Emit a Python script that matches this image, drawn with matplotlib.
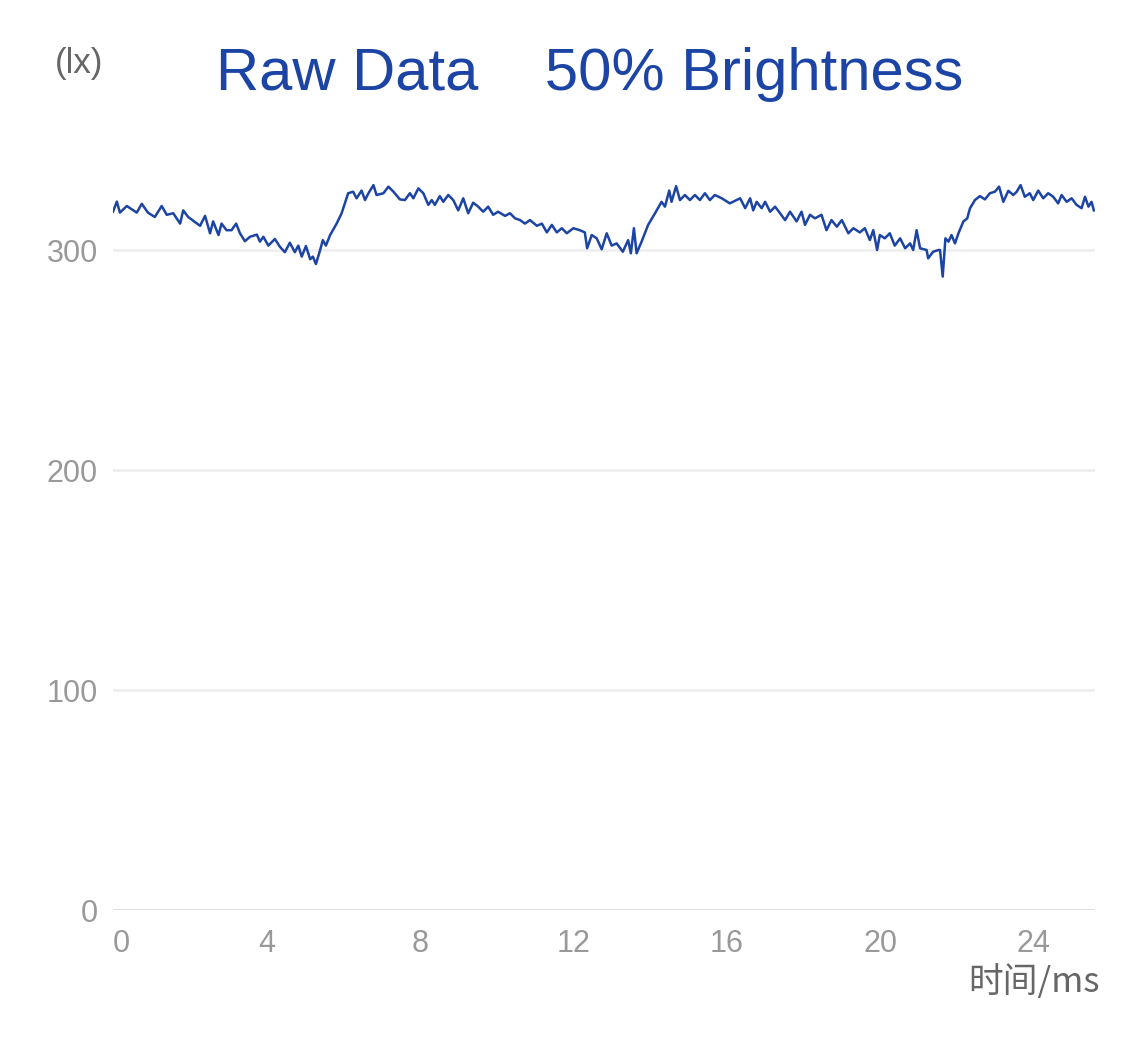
import matplotlib.pyplot as plt

# time (ms) and illuminance (lx)
time_ms = [
    0.00, 0.10, 0.18, 0.36, 0.62, 0.75, 0.91, 1.09, 1.27, 1.40, 1.57, 1.75, 1.83, 1.96,
    2.27, 2.40, 2.53, 2.61, 2.75, 2.83, 2.96, 3.09, 3.21, 3.31, 3.44, 3.57, 3.75, 3.83,
    3.92, 4.05, 4.22, 4.35, 4.48, 4.61, 4.74, 4.83, 4.92, 5.03, 5.14, 5.21, 5.29, 5.40,
    5.47, 5.55, 5.66, 5.83, 5.96, 6.13, 6.26, 6.35, 6.48, 6.57, 6.66, 6.79, 6.87, 7.05,
    7.18, 7.31, 7.48, 7.61, 7.74, 7.83, 7.96, 8.09, 8.22, 8.31, 8.39, 8.52, 8.61, 8.74,
    8.87, 9.00, 9.13, 9.26, 9.39, 9.52, 9.65, 9.78, 9.91, 10.04, 10.22, 10.35, 10.48,
    10.61, 10.74, 10.87, 11.05, 11.18, 11.31, 11.44, 11.57, 11.70, 11.83, 12.00, 12.17,
    12.30, 12.36, 12.48, 12.61, 12.74, 12.87, 13.00, 13.13, 13.29, 13.43, 13.50, 13.58,
    13.65, 13.78, 13.95, 14.13, 14.30, 14.39, 14.50, 14.56, 14.68, 14.78, 14.91, 15.04,
    15.17, 15.30, 15.43, 15.56, 15.69, 15.87, 16.08, 16.35, 16.48, 16.61, 16.69, 16.78,
    16.91, 17.00, 17.13, 17.26, 17.39, 17.52, 17.65, 17.82, 17.95, 18.04, 18.17, 18.30,
    18.47, 18.60, 18.73, 18.87, 19.00, 19.17, 19.30, 19.47, 19.60, 19.73, 19.82, 19.92,
    19.99, 20.12, 20.25, 20.38, 20.52, 20.65, 20.78, 20.86, 20.95, 21.04, 21.21, 21.25,
    21.38, 21.52, 21.56, 21.63, 21.70, 21.78, 21.86, 21.95, 22.04, 22.17, 22.27, 22.34,
    22.47, 22.60, 22.73, 22.86, 22.99, 23.10, 23.21, 23.34, 23.47, 23.56, 23.66, 23.77,
    23.90, 23.99, 24.12, 24.25, 24.38, 24.51, 24.64, 24.73, 24.86, 24.99, 25.12, 25.25,
    25.34, 25.43, 25.51, 25.57,
]
lux = [
    317.4, 322, 317, 320, 317, 321, 317, 315, 320, 316, 316.7, 312, 318, 315,
    311, 315.5, 307.6, 313, 306.8, 312, 309, 309, 312, 307.6, 304, 306, 307, 303.8,
    306, 302, 305, 301.5, 299, 303.3, 299, 302, 297, 301.8, 295.8, 297, 293.6, 300,
    304.5, 302, 306.8, 312, 316.7, 325.8, 326.5, 323.5, 327, 322.7, 325.8, 329.5, 325, 325.8,
    328.8, 326.5, 323, 322.7, 325.8, 323.5, 328, 325.8, 320.5, 322.7, 320.5, 324.5, 321.9, 325,
    322.7, 318, 323.5, 316.7, 321.5, 319.7, 317.4, 319.7, 316, 317.4, 315.5, 316.7, 314.4,
    313.6, 312, 313.6, 311, 312, 308, 311.4, 308, 309.9, 307.6, 309.9, 309,
    308, 300.8, 306.8, 305.3, 300.3, 307.6, 302, 303, 299.2, 304.5, 298.5, 309.9,
    298.5, 303.8, 311.4, 316.7, 321.9, 319.7, 327, 321.9, 329, 322.7, 325, 322.7,
    325, 322.7, 325.8, 322.7, 325, 323.5, 321.2, 323.5, 319, 323.5, 318, 321.9,
    319, 321.9, 317.4, 319.7, 316.7, 313.6, 317.4, 313, 317.4, 311.4, 316, 314.4,
    316, 309, 313.6, 310.6, 313.6, 307.6, 309.9, 308, 309.9, 304.5, 309, 300,
    306.8, 305.3, 307.6, 302, 305.3, 300.8, 303, 300, 309, 300.8, 300, 296.2,
    299.2, 300, 300, 287.9, 305.3, 303.8, 306.8, 303, 307.6, 313, 314.4, 318.9,
    322.7, 324.5, 323, 325.8, 326.5, 328.8, 321.9, 326.9, 325, 326.5, 329.5, 324.2,
    325.8, 322.7, 327, 323.5, 325.8, 324.2, 321.2, 325, 321.9, 323.5, 320.5, 319,
    324.2, 319.7, 321.9, 318,
]
x_ticks = [0, 4, 8, 12, 16, 20, 24]
y_ticks = [0, 100, 200, 300]

blue = "#1c44a4"
plt.rcParams['font.family'] = ['Liberation Sans', 'Noto Sans CJK SC', 'DejaVu Sans']

fig = plt.figure(figsize=(11.25, 10.4), dpi=100)
ax = fig.add_axes([113 / 1125, 130 / 1040, 982 / 1125, 770 / 1040])

ax.plot(time_ms, lux, color=blue, linewidth=1.8)

ax.set_xlim(0, 25.6)
ax.set_ylim(0, 350)
for v in y_ticks[1:]:
    ax.axhline(v, color="#efefef", linewidth=2, zorder=0)
ax.axhline(0, color="#dcdcdc", linewidth=2, zorder=0)

for s in ax.spines.values():
    s.set_visible(False)

ax.set_xticks(x_ticks)
ax.set_yticks(y_ticks)
ax.tick_params(length=0, colors="#999999", labelsize=22)
ax.tick_params(axis="y", pad=11)
ax.tick_params(axis="x", pad=14)
ax.get_xticklabels()[0].set_horizontalalignment("left")

fig.text(590 / 1125, 1 - 75 / 1040, "Raw Data    50% Brightness", color=blue,
         fontsize=43, ha="center", va="center")
fig.text(79 / 1125, 1 - 63 / 1040, "(lx)", color="#666666", fontsize=25,
         ha="center", va="center")
fig.text(1100 / 1125, 1 - 982 / 1040, "时间/ms", color="#666666", fontsize=25,
         ha="right", va="center",
         family=['Noto Sans CJK SC', 'DejaVu Sans'])

fig.savefig("out.png", dpi=100)
